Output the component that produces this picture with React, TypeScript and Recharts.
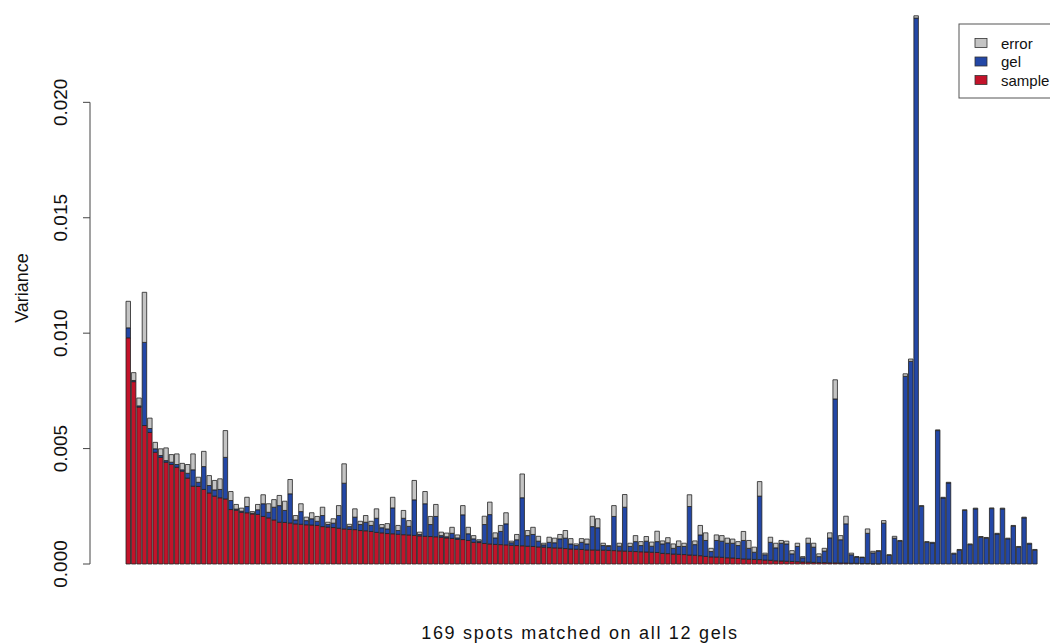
import { Bar, BarChart, XAxis, YAxis } from "recharts";

// variance components per spot, spots ordered by sample variance
const sample = [
  0.0098, 0.0079, 0.0068, 0.006, 0.0057, 0.00484, 0.00462, 0.00441, 0.00431, 0.00419, 0.00402,
  0.00372, 0.00337, 0.00336, 0.00323, 0.00308, 0.00294, 0.00287, 0.00282, 0.00236, 0.00233,
  0.00224, 0.00222, 0.00217, 0.00215, 0.00206, 0.002, 0.00191, 0.00181, 0.0018, 0.00178, 0.00174,
  0.00172, 0.0017, 0.00169, 0.00167, 0.00162, 0.0016, 0.00158, 0.00155, 0.00152, 0.0015, 0.00149,
  0.00145, 0.00144, 0.00141, 0.00137, 0.00135, 0.00132, 0.00131, 0.00129, 0.00127, 0.00126,
  0.00124, 0.00122, 0.0012, 0.00119, 0.00118, 0.00116, 0.00113, 0.00111, 0.00107, 0.00106, 0.00102,
  0.00094, 0.00093, 0.00089, 0.00087, 0.00085, 0.00084, 0.00083, 0.00081, 0.0008, 0.00079, 0.00077,
  0.00076, 0.00074, 0.00073, 0.00071, 0.0007, 0.00069, 0.00067, 0.00065, 0.00064, 0.00063,
  0.00061, 0.00061, 0.0006, 0.0006, 0.00059, 0.00058, 0.00057, 0.00056, 0.00055, 0.00054, 0.00053,
  0.00052, 0.00051, 0.0005, 0.00046, 0.00045, 0.00043, 0.00042, 0.00041, 0.00039, 0.00038, 0.00036,
  0.00033, 0.00031, 0.0003, 0.00029, 0.00027, 0.00026, 0.00024, 0.00022, 0.00021, 0.0002, 0.00019,
  0.00017, 0.00016, 0.00014, 0.00013, 0.00012, 0.00011, 0.0001, 0.00009, 0.00008, 0.00007,
  0.00006, 0.00006, 0.00005, 0.00005, 0.00004, 0.00004, 0.00003, 0.00003, 0.00002, 0.00002,
  0.00001, 0.00001, 0, 0, 0, 0, 0, 0, 0,
  0, 0, 0, 0, 0, 0, 0, 0, 0, 0, 0, 0, 0, 0, 0, 0, 0, 0, 0, 0, 0, 0,
];

const gel = [
  0.00043, 0.00005, 0.00005, 0.0036, 0.00017, 0.00015, 0.00008, 0.00007, 0.0001, 0.00012, 0.00006,
  0.00021, 0.00071, 0.00018, 0.00099, 0.00032, 0.00027, 0.00036, 0.0018, 0.00039, 0.00005,
  0.00005, 0.00027, 0.00003, 0.0002, 0.00055, 0.00024, 0.00055, 0.00072, 0.00052, 0.00126, 0.00017,
  0.00055, 0.00018, 0.00027, 0.00018, 0.00048, 0.00011, 0.00019, 0.00055, 0.00198, 0.00012, 0.00054,
  0.00026, 0.00037, 0.00026, 0.00061, 0.00022, 0.0002, 0.00112, 0.00016, 0.00071, 0.00037,
  0.00154, 0.00006, 0.00141, 0.00052, 0.00088, 0.00007, 0.00005, 0.00022, 0.00006, 0.00107, 0.00029,
  0.00015, 0.00006, 0.00082, 0.00127, 0.00028, 0.00057, 0.00091, 0.00011, 0.00025, 0.00208, 0.00046,
  0.00052, 0.00025, 0.0001, 0.00023, 0.00022, 0.0004, 0.00045, 0.00022, 0.00016, 0.00031,
  0.00026, 0.00101, 0.00097, 0.0002, 0.00017, 0.00148, 0.0002, 0.0019, 0.00021, 0.00043, 0.00027,
  0.00047, 0.00026, 0.00047, 0.00041, 0.00047, 0.00025, 0.00034, 0.00035, 0.0021, 0.00046, 0.0009,
  0.00069, 0.00023, 0.00072, 0.0007, 0.00063, 0.00064, 0.00056, 0.0008, 0.00047, 0.00031, 0.00275,
  0.00023, 0.00078, 0.00056, 0.00077, 0.00075, 0.00033, 0.00066, 0.00018, 0.00082, 0.00066,
  0.00026, 0.0005, 0.00108, 0.0071, 0.00101, 0.0017, 0.00037, 0.00027, 0.00026, 0.00131,
  0.00047, 0.00054, 0.00177, 0.00038, 0.00112, 0.00099, 0.00813, 0.00878, 0.02365,
  0.0025, 0.00094, 0.00091, 0.00578, 0.00286, 0.00351, 0.00044, 0.0006, 0.00232, 0.00084, 0.00239,
  0.00116, 0.00112, 0.0024, 0.0013, 0.00239, 0.00109, 0.00164, 0.00073, 0.002, 0.00087, 0.0006,
];

const error = [
  0.00115, 0.00034, 0.00034, 0.00217, 0.00045, 0.00028, 0.00029, 0.00055, 0.00033, 0.00046, 0.00028,
  0.00038, 0.00069, 0.00022, 0.00066, 0.00043, 0.00041, 0.00046, 0.00116, 0.00039, 0.0002,
  0.00013, 0.0004, 0.00007, 0.00023, 0.00039, 0.00037, 0.00033, 0.00044, 0.0004, 0.00062, 0.00019,
  0.00034, 0.00015, 0.00026, 0.00021, 0.00036, 0.0001, 0.00019, 0.00043, 0.00084, 0.0001, 0.00036,
  0.00014, 0.00029, 0.00018, 0.00041, 0.00014, 0.00023, 0.00046, 0.00022, 0.00034, 0.00025,
  0.00084, 0.0001, 0.00053, 0.00035, 0.00052, 0.00015, 0.00016, 0.00026, 0.00013, 0.0004, 0.00028,
  0.00014, 0.00006, 0.00036, 0.00054, 0.00022, 0.00026, 0.00048, 0.00007, 0.00023, 0.00103, 0.00022,
  0.00031, 0.00021, 0.00007, 0.00022, 0.0002, 0.00019, 0.00033, 0.00023, 0.00007, 0.00016,
  0.00021, 0.00045, 0.00039, 0.0001, 0.00004, 0.00047, 0.00013, 0.00055, 0.00014, 0.00026, 0.00017,
  0.0002, 0.00018, 0.00045, 0.00013, 0.00022, 0.00019, 0.00024, 0.00014, 0.00051, 0.00016, 0.00041,
  0.00033, 0.00014, 0.00024, 0.00024, 0.00022, 0.00018, 0.00017, 0.00039, 0.00034, 0.00022, 0.00063,
  0.00007, 0.00022, 0.0002, 0.00012, 0.00012, 0.00014, 0.00014, 0.00005, 0.00022, 0.00017,
  0.00012, 0.00012, 0.00022, 0.00083, 0.00018, 0.00033, 0.00007, 0.00002, 0.00002, 0.00019,
  0.00007, 0.00003, 0.00011, 0.00002, 0.00008, 0.00003, 0.00011, 0.0001, 0.0001,
  0.00003, 0.00003, 0.00003, 0.00003, 0.00003, 0.00003, 0.00003, 0.00003, 0.00003, 0.00003, 0.00003,
  0.00003, 0.00003, 0.00003, 0.00003, 0.00003, 0.00003, 0.00003, 0.00003, 0.00003, 0.00003, 0.00003,
];

const yTicks = [0, 0.005, 0.01, 0.015, 0.02];
const yMax = 0.024;

const series = [
  { key: "error", color: "#c4c4c4" },
  { key: "gel", color: "#2347a6" },
  { key: "sample", color: "#c3132a" },
];

const data = sample.map((s, i) => ({
  spot: i + 1,
  sample: s,
  gel: gel[i],
  error: error[i],
}));

const FONT = '"Liberation Sans", Arial, Helvetica, sans-serif';
const W = 1050;
const H = 643;
const TOP = 10;
const BOTTOM = 79;
const plotH = H - TOP - BOTTOM;
// axis line only runs from the first to the last tick, like base graphics
const axisGap = (plotH * (yMax - yTicks[yTicks.length - 1])) / yMax;
const axisLen = (plotH * (yTicks[yTicks.length - 1] - yTicks[0])) / yMax;

function YTick({ y, payload }: any) {
  return (
    <g>
      <line x1={83} x2={90} y1={y} y2={y} stroke="#444" strokeWidth={1} />
      <text
        x={67}
        y={y}
        transform={`rotate(-90, 67, ${y})`}
        textAnchor="middle"
        fontFamily={FONT}
        fontSize={19}
        fill="#111"
      >
        {payload.value.toFixed(3)}
      </text>
    </g>
  );
}

function YLabel() {
  return (
    <text
      x={28}
      y={288}
      transform="rotate(-90, 28, 288)"
      textAnchor="middle"
      fontFamily={FONT}
      fontSize={18}
      fill="#111"
    >
      Variance
    </text>
  );
}

function XLabel() {
  return (
    <text
      x={580}
      y={639}
      textAnchor="middle"
      fontFamily={FONT}
      fontSize={18}
      letterSpacing={1.7}
      fill="#111"
    >
      169 spots matched on all 12 gels
    </text>
  );
}

function LegendBox() {
  return (
    <svg
      width={100}
      height={80}
      style={{ position: "absolute", left: 958, top: 23, overflow: "visible" }}
    >
      <rect x={1} y={1} width={120} height={74} fill="#fff" stroke="#555" strokeWidth={1} />
      {series.map((s, i) => (
        <g key={s.key}>
          <rect
            x={17}
            y={15.5 + i * 18.5}
            width={12}
            height={9}
            fill={s.color}
            stroke="#333"
            strokeWidth={0.8}
          />
          <text
            x={43}
            y={25.5 + i * 18.5}
            fontFamily={FONT}
            fontSize={15}
            fill="#111"
          >
            {s.key}
          </text>
        </g>
      ))}
    </svg>
  );
}

export default function App() {
  return (
    <div
      style={{
        position: "absolute",
        left: 0,
        top: 0,
        width: W,
        height: H,
        overflow: "hidden",
        background: "#fff",
      }}
    >
      <BarChart
        width={W}
        height={H}
        data={data}
        margin={{ top: TOP, right: 0, bottom: 0, left: 0 }}
        barSize={4.5}
      >
        <XAxis
          dataKey="spot"
          tick={false}
          tickLine={false}
          axisLine={false}
          height={BOTTOM}
          padding={{ left: 36, right: 12 }}
          label={<XLabel />}
        />
        <YAxis
          width={90}
          domain={[0, yMax]}
          ticks={yTicks}
          tickLine={false}
          tick={<YTick />}
          axisLine={{
            stroke: "#444",
            strokeWidth: 1,
            strokeDasharray: `0 ${axisGap} ${axisLen} 400`,
          }}
          label={<YLabel />}
        />
        <Bar dataKey="sample" stackId="v" fill="#c3132a" stroke="#222" strokeWidth={0.8} isAnimationActive={false} />
        <Bar dataKey="gel" stackId="v" fill="#2347a6" stroke="#222" strokeWidth={0.8} isAnimationActive={false} />
        <Bar dataKey="error" stackId="v" fill="#c4c4c4" stroke="#222" strokeWidth={0.8} isAnimationActive={false} />
      </BarChart>
      <LegendBox />
    </div>
  );
}
